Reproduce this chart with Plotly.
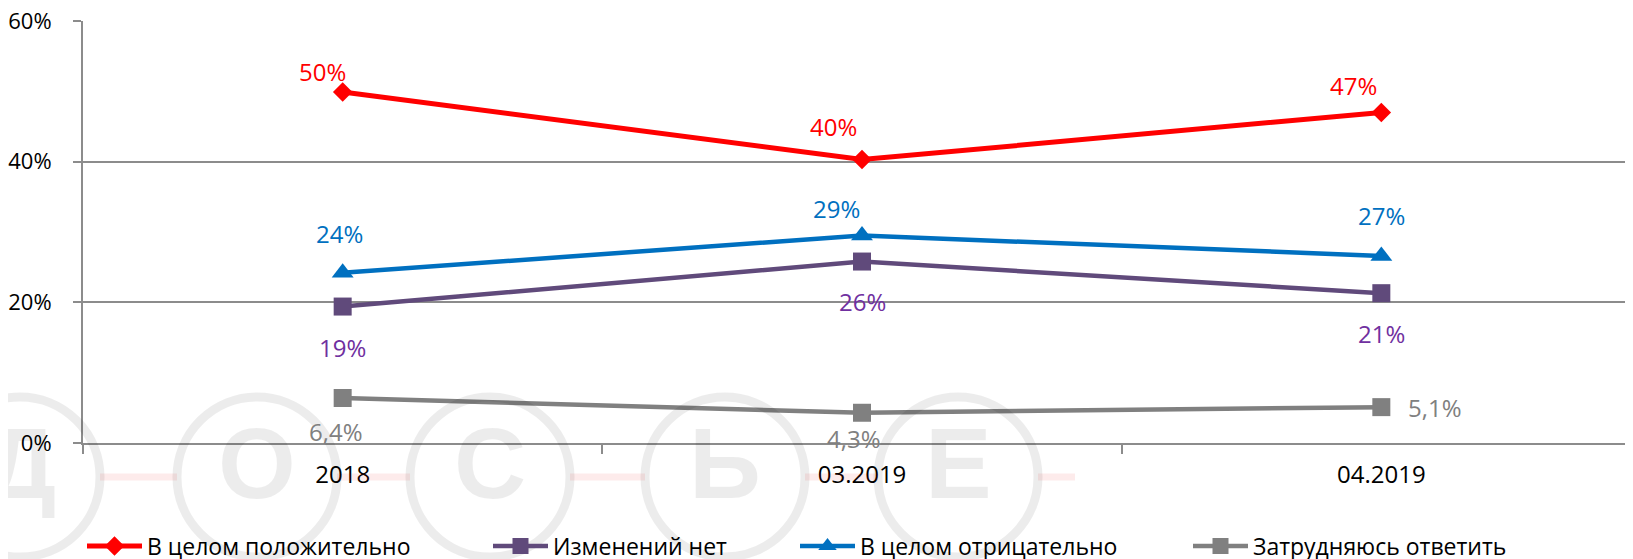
import plotly.graph_objects as go

# ---- data ----
categories = ["2018", "03.2019", "04.2019"]
series_names = ["В целом положительно", "Изменений нет", "В целом отрицательно", "Затрудняюсь ответить"]
positive = [49.9, 40.3, 47.0]
no_change = [19.4, 25.8, 21.3]
negative = [24.2, 29.5, 26.6]
hard_to_say = [6.4, 4.3, 5.1]
label_positive = ["50%", "40%", "47%"]
label_no_change = ["19%", "26%", "21%"]
label_negative = ["24%", "29%", "27%"]
label_hard = ["6,4%", "4,3%", "5,1%"]
y_ticks = [0, 20, 40, 60]
y_tick_labels = ["0%", "20%", "40%", "60%"]
watermark_letters = ["Д", "О", "С", "Ь", "Е"]

FONT = "Open Sans"
W, H = 1633, 559
OFF = 8  # page body margin offset
L, R, T = 75, 0, 13
PH = 422
B = H - T - PH
PW = W - L - R

series = [
    dict(name=series_names[0], y=positive, labels=label_positive, color="#FF0000", lcolor="#FF0000",
         symbol="diamond", msize=15, lw=5,
         offs=[(-20, 21), (-29, 33), (-28, 27)]),
    dict(name=series_names[1], y=no_change, labels=label_no_change, color="#604A7B", lcolor="#7030A0",
         symbol="square", msize=18, lw=4.5,
         offs=[(0, -41), (0, -40), (0, -40)]),
    dict(name=series_names[2], y=negative, labels=label_negative, color="#0070C0", lcolor="#0070C0",
         symbol="triangle-up", msize=19, lw=4.5,
         offs=[(-3, 39), (-26, 27), (0, 40)]),
    dict(name=series_names[3], y=hard_to_say, labels=label_hard, color="#808080", lcolor="#808080",
         symbol="square", msize=18, lw=4.5,
         offs=[(-7, -34), (-8, -26), (54, 0)]),
]

legend_x_px = [74, 480, 787, 1180]

fig = go.Figure()
annotations = []
for i, s in enumerate(series):
    lg = "legend" if i == 0 else f"legend{i+1}"
    fig.add_trace(go.Scatter(
        x=categories, y=s["y"], name=s["name"], mode="lines+markers",
        line=dict(color=s["color"], width=s["lw"]),
        marker=dict(symbol=s["symbol"], size=s["msize"], color=s["color"]),
        legend=lg, hoverinfo="skip",
    ))
    for j, (val, txt) in enumerate(zip(s["y"], s["labels"])):
        dx, dy = s["offs"][j]
        annotations.append(dict(
            x=j, y=val, xref="x", yref="y", text=txt, showarrow=False,
            xanchor="center", yanchor="middle", xshift=dx, yshift=dy,
            font=dict(family=FONT, size=24, color=s["lcolor"]),
        ))

legends = {}
for i in range(4):
    key = "legend" if i == 0 else f"legend{i+1}"
    legends[key] = dict(
        x=legend_x_px[i] / W, xref="container", xanchor="left",
        y=(H - 538) / H, yref="container", yanchor="middle",
        orientation="h", bgcolor="rgba(0,0,0,0)",
        font=dict(family=FONT, size=23, color="#000000"),
        itemwidth=55,
    )

# watermark (ДОСЬЕ) drawn in paper coords; positions given in page pixels
def px_to_paper_x(px):
    return (px - OFF - L) / PW

def px_to_paper_y(py):
    return (H - B - (py - OFF)) / PH

shapes = []
centers = [20, 257, 490, 725, 958]
cy, rad = 477, 80
for cx in centers:
    shapes.append(dict(
        type="circle", xref="paper", yref="paper",
        x0=px_to_paper_x(cx - rad), x1=px_to_paper_x(cx + rad),
        y0=px_to_paper_y(cy + rad), y1=px_to_paper_y(cy - rad),
        line=dict(color="rgba(0,0,0,0.075)", width=9), layer="above",
    ))
for a, b in [(100, 177), (337, 410), (570, 645), (805, 878), (1038, 1075)]:
    shapes.append(dict(
        type="line", xref="paper", yref="paper",
        x0=px_to_paper_x(a), x1=px_to_paper_x(b),
        y0=px_to_paper_y(cy), y1=px_to_paper_y(cy),
        line=dict(color="rgba(235,0,0,0.08)", width=7), layer="above",
    ))
for cx, letter in zip(centers, watermark_letters):
    annotations.append(dict(
        x=px_to_paper_x(cx), y=px_to_paper_y(cy - 14), xref="paper", yref="paper",
        text=f"<b>{letter}</b>", showarrow=False, xanchor="center", yanchor="middle",
        font=dict(family="Liberation Sans", size=100, color="rgba(0,0,0,0.075)"),
    ))

fig.update_layout(
    width=W, height=H,
    margin=dict(l=L, r=R, t=T, b=B, pad=0, autoexpand=False),
    paper_bgcolor="white", plot_bgcolor="rgba(0,0,0,0)",
    font=dict(family=FONT, size=22, color="#000000"),
    showlegend=True,
    annotations=annotations,
    shapes=shapes,
    **legends,
)
fig.update_xaxes(
    type="category", range=[-0.5, 2.5], automargin=False,
    showgrid=False, showline=True, linecolor="#8C8C8C", linewidth=2,
    ticks="outside", ticklen=9, tickwidth=2, tickcolor="#8C8C8C", tickson="boundaries",
    tickfont=dict(family=FONT, size=24, color="#000000"), ticklabelstandoff=9,
    ticklabeloverflow="allow",
    zeroline=False, fixedrange=True,
)
fig.update_yaxes(
    range=[0, 60], tickvals=y_ticks, ticktext=y_tick_labels, automargin=False,
    showgrid=True, gridcolor="#8C8C8C", gridwidth=2,
    showline=True, linecolor="#8C8C8C", linewidth=2,
    ticks="outside", ticklen=8, tickwidth=2, tickcolor="#8C8C8C",
    tickfont=dict(family=FONT, size=22, color="#000000"), ticklabelstandoff=17,
    ticklabeloverflow="allow",
    zeroline=False, fixedrange=True,
)

fig.write_html("out.html")
